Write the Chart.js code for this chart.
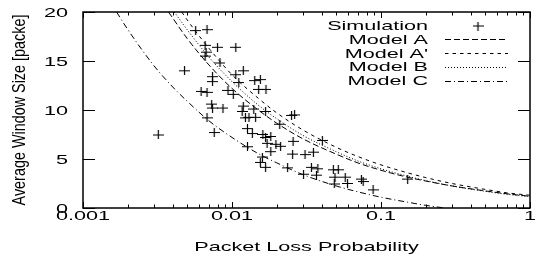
<!DOCTYPE html>
<html>
<head>
<meta charset="utf-8">
<script src="https://cdn.jsdelivr.net/npm/chart.js@4.4.1/dist/chart.umd.min.js"></script>
<style>
  html, body { margin: 0; padding: 0; background: #fff; }
  #wrap { width: 536px; height: 257px; }
</style>
</head>
<body>
<div id="wrap"><canvas id="c"></canvas></div>
<script>
/* global Chart */

// --- simulation points (packet loss probability, average window size) ---
const simP = [0.0032, 0.0048, 0.0057, 0.0068, 0.0066, 0.0080, 0.0106, 0.0067, 0.0066, 0.0083,
              0.0119, 0.0106, 0.0074, 0.0074, 0.0142, 0.0155, 0.0111, 0.0151, 0.0169, 0.0062,
              0.0068, 0.0094, 0.0102, 0.0073, 0.0074, 0.0087, 0.0119, 0.0117, 0.0140, 0.0168,
              0.0068, 0.0123, 0.0144, 0.0263, 0.0251, 0.0076, 0.0127, 0.0137, 0.0209, 0.0161,
              0.0168, 0.0182, 0.0172, 0.0197, 0.0212, 0.0182, 0.0127, 0.0257, 0.0255, 0.0309,
              0.0352, 0.0404, 0.0160, 0.0155, 0.0168, 0.0236, 0.0302, 0.0341, 0.0377, 0.0369,
              0.0479, 0.0517, 0.0491, 0.0575, 0.0486, 0.0596, 0.0739, 0.0759, 0.0885, 0.151,
              0.0130];
const simW = [7.45, 14.0, 18.1, 18.2, 16.6, 16.4, 16.4, 15.9, 15.5, 14.8,
              14.0, 13.6, 13.4, 12.9, 13.0, 13.1, 12.8, 12.1, 12.1, 11.9,
              11.8, 12.0, 11.6, 10.6, 10.2, 10.2, 10.4, 9.85, 10.1, 9.85,
              9.2, 9.2, 9.25, 9.5, 9.45, 7.7, 8.1, 7.6, 8.55, 7.5,
              7.2, 7.3, 6.6, 6.5, 6.3, 5.75, 6.25, 6.8, 5.5, 5.45,
              5.7, 6.9, 5.2, 4.65, 4.15, 4.1, 3.45, 4.15, 4.0, 3.35,
              3.9, 3.9, 3.15, 3.15, 2.45, 2.5, 2.95, 2.7, 1.85, 2.95,
              9.25];

// --- model curves ---
const modelAP  = [0.00375, 0.005, 0.007, 0.01, 0.015, 0.02, 0.03, 0.05, 0.07, 0.1, 0.15, 0.2, 0.3, 0.5, 0.7, 1];
const modelAW  = [20, 17.3, 14.6, 12.2, 10.0, 8.65, 7.05, 5.5, 4.6, 3.85, 3.15, 2.75, 2.25, 1.75, 1.45, 1.2];
const modelA2P = [0.0046, 0.005, 0.007, 0.01, 0.015, 0.02, 0.03, 0.05, 0.07, 0.1, 0.15, 0.2, 0.3, 0.5, 0.7, 1];
const modelA2W = [20, 19.2, 16.3, 13.6, 11.2, 9.7, 7.95, 6.2, 5.25, 4.4, 3.6, 3.1, 2.5, 1.9, 1.55, 1.3];
const modelBP  = [0.0041, 0.005, 0.007, 0.01, 0.015, 0.02, 0.03, 0.05, 0.07, 0.1, 0.15, 0.2, 0.3, 0.5, 0.7, 1];
const modelBW  = [20, 18.2, 15.4, 12.9, 10.5, 9.1, 7.4, 5.75, 4.8, 4.0, 3.25, 2.8, 2.25, 1.7, 1.4, 1.15];
const modelCP  = [0.00168, 0.002, 0.003, 0.004, 0.005, 0.007, 0.01, 0.015, 0.02, 0.03, 0.05, 0.07, 0.1, 0.15, 0.2, 0.267];
const modelCW  = [20, 18.2, 14.5, 12.35, 10.9, 8.9, 7.2, 5.55, 4.6, 3.4, 2.25, 1.65, 1.1, 0.6, 0.27, 0];

// --- axes ---
const xTicks      = [0.001, 0.01, 0.1, 1];
const xTickLabels = ['0.001', '0.01', '0.1', '1'];
const xMinorTicks = [0.002, 0.003, 0.004, 0.005, 0.006, 0.007, 0.008, 0.009,
                     0.02, 0.03, 0.04, 0.05, 0.06, 0.07, 0.08, 0.09,
                     0.2, 0.3, 0.4, 0.5, 0.6, 0.7, 0.8, 0.9];
const yTicks      = [0, 5, 10, 15, 20];
const yTickLabels = ['0', '5', '10', '15', '20'];
const xTitle = 'Packet Loss Probability';
const yTitle = 'Average Window Size [packe]';
const legendLabels = ['Simulation', 'Model A', "Model A'", 'Model B', 'Model C'];

const FONT = '13.5px "Liberation Sans", Arial, sans-serif';
const SX = 1.6; // the original text is stretched sideways

// "+" marker, a little wider than tall like the original
const cross = document.createElement('canvas');
cross.width = 11; cross.height = 9;
(function () {
  const g = cross.getContext('2d');
  g.strokeStyle = '#000'; g.lineWidth = 1.2;
  g.beginPath();
  g.moveTo(0, 4.5); g.lineTo(11, 4.5);
  g.moveTo(5.5, 0); g.lineTo(5.5, 9);
  g.stroke();
})();

const pts = (xs, ys) => xs.map((x, i) => ({ x, y: ys[i] }));

function curve(label, xs, ys, dash) {
  return {
    label,
    data: pts(xs, ys),
    showLine: true,
    borderColor: '#000',
    borderWidth: 1,
    borderDash: dash,
    pointRadius: 0,
    cubicInterpolationMode: 'monotone',
    fill: false,
  };
}

function sText(ctx, txt, x, y, align) {
  ctx.save();
  ctx.translate(x, y);
  ctx.scale(SX, 1);
  ctx.textAlign = align;
  ctx.textBaseline = 'alphabetic';
  ctx.fillText(txt, 0, 0);
  ctx.restore();
}

const framePlugin = {
  id: 'frame',
  afterDraw(chart) {
    const { ctx, chartArea: a, scales: { x, y } } = chart;
    ctx.save();
    ctx.strokeStyle = '#000';

    // ticks on all four sides, pointing inward
    ctx.lineWidth = 1;
    ctx.beginPath();
    xMinorTicks.forEach((v) => {
      const px = Math.round(x.getPixelForValue(v)) + 0.5;
      ctx.moveTo(px, a.bottom); ctx.lineTo(px, a.bottom - 3.5);
      ctx.moveTo(px, a.top);    ctx.lineTo(px, a.top + 3.5);
    });
    xTicks.forEach((v) => {
      const px = Math.round(x.getPixelForValue(v)) + 0.5;
      ctx.moveTo(px, a.bottom); ctx.lineTo(px, a.bottom - 6);
      ctx.moveTo(px, a.top);    ctx.lineTo(px, a.top + 6);
    });
    yTicks.forEach((v) => {
      const py = Math.round(y.getPixelForValue(v)) + 0.5;
      ctx.moveTo(a.left, py);  ctx.lineTo(a.left + 12, py);
      ctx.moveTo(a.right, py); ctx.lineTo(a.right - 12, py);
    });
    ctx.stroke();

    ctx.lineWidth = 1.5;
    ctx.strokeRect(a.left, a.top, a.right - a.left, a.bottom - a.top);

    // tick labels and titles
    ctx.fillStyle = '#000';
    ctx.font = FONT;
    xTicks.forEach((v, i) => sText(ctx, xTickLabels[i], x.getPixelForValue(v), 219.5, 'center'));
    yTicks.forEach((v, i) => sText(ctx, yTickLabels[i], 68, y.getPixelForValue(v) + 4.5, 'right'));
    sText(ctx, xTitle, (a.left + a.right) / 2, 251, 'center');

    ctx.save();
    ctx.font = '14.4px "Liberation Sans", Arial, sans-serif';
    ctx.translate(25, (a.top + a.bottom) / 2);
    ctx.scale(1.3, 1);
    ctx.rotate(-Math.PI / 2);
    ctx.textAlign = 'center';
    ctx.fillText(yTitle, 0, 0);
    ctx.restore();

    // legend
    const ds = chart.data.datasets;
    legendLabels.forEach((lab, i) => {
      const base = 30 + i * 13.75;
      sText(ctx, lab, 428, base, 'right');
      const cy = base - 4.5;
      if (i === 0) {
        ctx.drawImage(cross, 478 - 5.5, Math.round(cy) - 4.5);
      } else {
        ctx.save();
        ctx.lineWidth = ds[i].borderWidth;
        ctx.setLineDash(ds[i].borderDash);
        ctx.beginPath();
        ctx.moveTo(445, Math.round(cy) + 0.5);
        ctx.lineTo(508, Math.round(cy) + 0.5);
        ctx.stroke();
        ctx.restore();
      }
    });
    ctx.restore();
  },
};

new Chart(document.getElementById('c'), {
  type: 'scatter',
  data: {
    datasets: [
      {
        label: 'Simulation',
        data: pts(simP, simW),
        pointStyle: cross,
        pointRadius: 5,
        showLine: false,
      },
      curve('Model A',  modelAP,  modelAW,  [6, 3]),
      curve("Model A'", modelA2P, modelA2W, [3.5, 4]),
      curve('Model B',  modelBP,  modelBW,  [1, 2]),
      curve('Model C',  modelCP,  modelCW,  [6, 3, 1, 3]),
    ],
  },
  options: {
    animation: false,
    responsive: true,
    maintainAspectRatio: false,
    events: [],
    layout: { padding: { left: 83, top: 12, right: 2, bottom: 49 } },
    plugins: { legend: { display: false }, tooltip: { enabled: false } },
    scales: {
      x: { type: 'logarithmic', min: 0.001, max: 1, display: false },
      y: { type: 'linear', min: 0, max: 20, display: false },
    },
  },
  plugins: [framePlugin],
});
</script>
</body>
</html>
